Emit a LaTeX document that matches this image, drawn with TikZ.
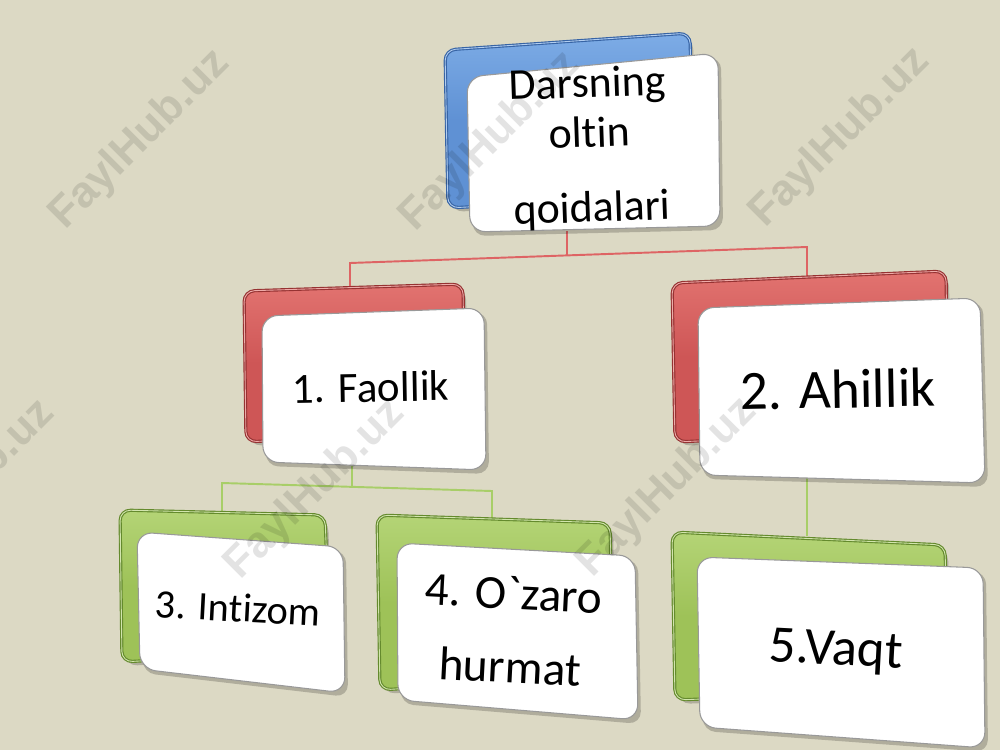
\documentclass[tikz,border=0pt]{standalone}
\usepackage{fontspec}
\setmainfont{Carlito}[Ligatures={TeXOff,NoCommon}]
\newfontfamily\wmfont{Liberation Sans}
\definecolor{bg}{RGB}{220,217,196}
\definecolor{blueF}{RGB}{95,145,212}
\definecolor{blueL}{RGB}{125,172,230}
\definecolor{blueD}{RGB}{55,100,165}
\definecolor{redF}{RGB}{206,86,86}
\definecolor{redL}{RGB}{226,115,112}
\definecolor{redD}{RGB}{150,50,50}
\definecolor{grnF}{RGB}{158,194,88}
\definecolor{grnL}{RGB}{180,212,118}
\definecolor{grnD}{RGB}{100,138,45}
\definecolor{redln}{RGB}{222,100,100}
\definecolor{grnln}{RGB}{168,206,104}
\tikzset{
  sh/.style={fill=black, fill opacity=0.2, rounded corners=7pt},
  bk/.style n args={3}{top color=#2, bottom color=#1, middle color=#1, draw=#3, line width=1.8pt, rounded corners=6pt},
  rim/.style={draw=#1, line width=0.5pt, rounded corners=6pt},
  front/.style={fill=white, draw=black!40, line width=0.6pt, rounded corners=9pt},
  txt/.style={align=center, inner sep=0pt, text=black},
  rl/.style={draw=redln, line width=1.1pt},
  gl/.style={draw=grnln, line width=1.1pt},
  wm/.style={font=\wmfont\bfseries\fontsize{25}{25}\selectfont, text=black, text opacity=0.11, rotate=45, inner sep=0pt}
}
\newcommand\backbox[7]{%
  \fill[sh, shift={(3,4)}] #4 -- #5 -- #6 -- #7 -- cycle;
  \path[bk={#1}{#2}{#3}] #4 -- #5 -- #6 -- #7 -- cycle;
  \path[rim=#2!60!white] #4 -- #5 -- #6 -- #7 -- cycle;}
\newcommand\frontbox[4]{%
  \fill[sh, shift={(3,4)}] #1 -- #2 -- #3 -- #4 -- cycle;
  \path[front] #1 -- #2 -- #3 -- #4 -- cycle;}
\begin{document}
\begin{tikzpicture}[x=0.02cm, y=-0.02cm]
\fill[bg] (0,0) rectangle (1000,750);
\useasboundingbox (0,0) rectangle (1000,750);
\clip (0,0) rectangle (1000,750);

% attach points
\coordinate (topB) at (567,231);
\coordinate (jT) at (567,255);
\coordinate (lA) at (350,263);
\coordinate (rA) at (807,247);
\coordinate (faT) at (350,290);
\coordinate (ahT) at (807,276);
\coordinate (faB) at (352,466);
\coordinate (jG) at (352,487);
\coordinate (lG) at (222,483);
\coordinate (rG) at (492,491);
\coordinate (inT) at (222,511);
\coordinate (ozT) at (492,518);
\coordinate (ahB) at (807,478);
\coordinate (vaT) at (807,536);

% connectors
\draw[rl] (topB) -- (jT);
\draw[rl] (faT) -- (lA) -- (rA) -- (ahT);
\draw[gl] (faB) -- (jG);
\draw[gl] (inT) -- (lG) -- (rG) -- (ozT);
\draw[gl] (ahB) -- (vaT);

% top box
\backbox{blueF}{blueL}{blueD}{(445,50)}{(690,33)}{(693,195)}{(448,208)}
\frontbox{(467,77)}{(718,53)}{(720,226)}{(470,232)}

% red boxes
\backbox{redF}{redL}{redD}{(244,291)}{(463,284)}{(465,430)}{(246,442)}
\frontbox{(262,316)}{(484,308)}{(486,470)}{(263,462)}
\backbox{redF}{redL}{redD}{(672,283)}{(946,271)}{(948,430)}{(675,442)}
\frontbox{(698,308)}{(980,298)}{(985,483)}{(700,475)}

% green boxes
\backbox{grnF}{grnL}{grnD}{(120,510)}{(325,515)}{(330,650)}{(122,662)}
\frontbox{(137,532)}{(343,547)}{(345,693)}{(140,669)}
\backbox{grnF}{grnL}{grnD}{(377,515)}{(610,523)}{(613,675)}{(380,690)}
\frontbox{(397,543)}{(635,556)}{(638,720)}{(398,700)}
\backbox{grnF}{grnL}{grnD}{(672,532)}{(945,545)}{(948,690)}{(675,700)}
\frontbox{(697,557)}{(983,568)}{(985,748)}{(700,727)}

% texts
\node[txt, rotate=2, font=\fontsize{25}{28.5}\selectfont] (top) at (590,148) {Darsning\\oltin\\[14pt]qoidalari};
\node[txt, rotate=1, font=\fontsize{24.5}{28}\selectfont] (fa) at (371,387) {1. Faollik};
\node[txt, rotate=1, font=\fontsize{31.5}{36}\selectfont] (ah) at (838,389) {2. Ahillik};
\node[txt, rotate=-3, font=\fontsize{23}{27}\selectfont] (in) at (238,608) {3. Intizom};
\node[txt, rotate=-3, font=\fontsize{27}{32}\selectfont] (oz) at (512,630) {4. O`zaro\\[10pt]hurmat};
\node[txt, rotate=-3, font=\fontsize{30}{34}\selectfont] (va) at (836,652) {5.Vaqt};

% watermarks
\node[wm] (w1) at (140,140) {FaylHub.uz};
\node[wm] (w2) at (490,142) {FaylHub.uz};
\node[wm] (w3) at (840,138) {FaylHub.uz};
\node[wm] (w4) at (-35,490) {FaylHub.uz};
\node[wm] (w5) at (315,490) {FaylHub.uz};
\node[wm] (w6) at (667,488) {FaylHub.uz};
\end{tikzpicture}
\end{document}
